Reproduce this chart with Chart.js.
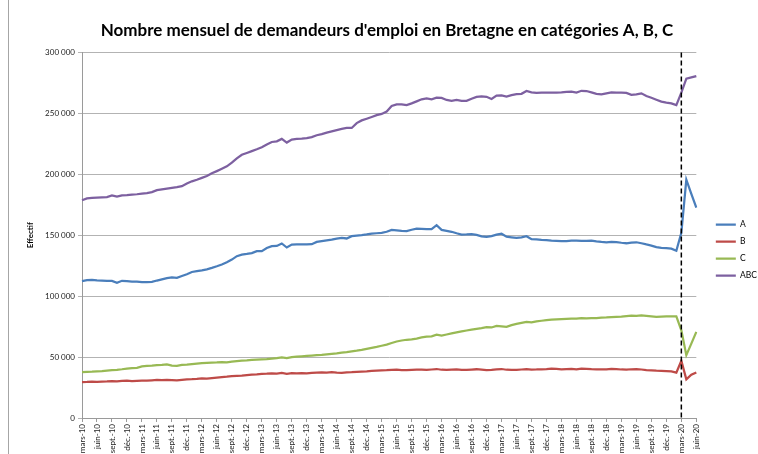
<!DOCTYPE html>
<html>
<head>
<meta charset="utf-8">
<script src="https://cdn.jsdelivr.net/npm/chart.js@4/dist/chart.umd.min.js"></script>
<style>
  html, body { margin: 0; padding: 0; background: #fff; }
  #wrap { position: relative; width: 758px; height: 454px; }
  #frame { position: absolute; left: 8px; top: 0; width: 0; height: 454px; border-left: 1px solid #a6a6a6; }
</style>
</head>
<body>
<div id="wrap">
  <div id="frame"></div>
  <canvas id="chart" width="758" height="454"></canvas>
</div>
<script>
// mois de mars-10 à juin-20
var moisNoms = ["mars", "avr.", "mai", "juin", "juil.", "août", "sept.", "oct.", "nov.", "déc.", "janv.", "févr."];
var mois = [];
for (var k = 0; k < 124; k++) {
    var an = 10 + Math.floor((k + 2) / 12);
    mois.push(moisNoms[k % 12] + "-" + an);
}

// effectifs en milliers
var serieA = [112.3, 113.2, 113.3, 113, 112.8, 112.6, 112.5, 110.9, 112.6, 112.3, 112, 112, 111.5, 111.4, 111.7, 112.8, 113.8, 114.8, 115.4, 115,
    116.5, 118, 119.8, 120.5, 121.2, 122, 123.2, 124.5, 126, 127.8, 130, 132.8, 134, 134.6, 135.3, 136.9, 136.9, 139.5, 141, 141.2,
    143.2, 139.9, 142.3, 142.5, 142.4, 142.4, 142.6, 144.5, 145.2, 145.8, 146.3, 147.2, 147.8, 147.3, 149.2, 149.6, 150, 150.6, 151.3, 151.6,
    151.9, 152.8, 154.4, 154, 153.6, 153.3, 154.5, 155.4, 155.2, 155, 154.9, 158.2, 154.4, 153.6, 152.8, 151.6, 150.5, 150.6, 150.8, 150.2,
    149, 148.6, 149.2, 150.4, 151.2, 148.8, 148.3, 147.8, 148.3, 149.2, 146.8, 146.5, 146.2, 146, 145.6, 145.4, 145.2, 145.2, 145.5, 145.6,
    145.4, 145.3, 145.6, 145, 144.5, 144.2, 144.6, 144.4, 143.8, 143.4, 144, 144.2, 143.4, 142.4, 141.5, 140.2, 139.6, 139.3, 138.9, 137.2,
    152, 195.6, 184, 172.7];
var serieB = [29.5, 29.6, 29.8, 29.7, 29.9, 30, 30.2, 30, 30.4, 30.6, 30.3, 30.5, 30.7, 30.6, 30.9, 31.2, 31, 31.3, 31.1, 30.9,
    31.3, 31.6, 31.8, 32.1, 32.5, 32.3, 32.8, 33.2, 33.6, 33.9, 34.3, 34.6, 34.8, 35.2, 35.5, 35.8, 36.2, 36.4, 36.7, 36.5,
    37, 36.3, 36.8, 36.7, 36.9, 36.6, 37, 37.2, 37.4, 37.3, 37.6, 37.2, 37, 37.4, 37.6, 37.9, 38.1, 38.3, 38.6, 38.8,
    39, 39.2, 39.5, 39.6, 39.3, 39.2, 39.5, 39.7, 39.6, 39.4, 39.8, 40.2, 39.6, 39.4, 39.6, 39.8, 39.5, 39.4, 39.7, 40,
    39.6, 39.2, 39.5, 39.9, 40.2, 39.6, 39.4, 39.5, 39.8, 40.1, 39.7, 39.8, 40, 40.2, 40.5, 40.3, 40, 40.2, 40.4, 40,
    40.6, 40.4, 40.1, 40, 39.8, 40, 40.3, 40.1, 39.8, 39.6, 40, 40.2, 39.8, 39.3, 39.1, 38.8, 38.6, 38.4, 38.2, 37.2,
    47, 31.7, 35.5, 37.4];
var serieC = [37.7, 37.9, 38, 38.2, 38.4, 38.9, 39.3, 39.5, 40, 40.6, 41, 41.2, 42.3, 42.8, 43, 43.3, 43.6, 44, 43, 42.8,
    43.6, 43.8, 44.2, 44.6, 45, 45.3, 45.5, 45.6, 45.9, 45.7, 46.3, 46.7, 47, 47.2, 47.6, 47.9, 48.2, 48.4, 48.8, 49.2,
    49.7, 49.2, 50, 50.3, 50.6, 50.9, 51.2, 51.5, 51.8, 52.2, 52.6, 53, 53.6, 54, 54.6, 55.2, 55.9, 56.8, 57.6, 58.4,
    59.3, 60.2, 61.5, 62.8, 63.6, 64.2, 64.6, 65.2, 66.2, 66.8, 67, 68.4, 67.6, 68.5, 69.4, 70.2, 71, 71.8, 72.6, 73.2,
    73.8, 74.6, 74.3, 75.6, 75.2, 74.8, 76.2, 77.2, 78, 78.8, 78.4, 79.3, 79.8, 80.3, 80.8, 81, 81.2, 81.4, 81.6, 81.5,
    82, 81.8, 81.9, 82, 82.3, 82.5, 82.8, 83, 83.2, 83.6, 84, 83.8, 84.2, 83.8, 83.4, 83, 83.2, 83.4, 83.3, 83.4,
    72, 51.6, 61, 70.7];
var serieABC = [178.7, 180.2, 180.6, 180.8, 181, 181.2, 182.6, 181.6, 182.6, 182.8, 183.2, 183.6, 184.2, 184.6, 185.4, 187, 187.6, 188.2, 188.8, 189.4,
    190.2, 192.5, 194.2, 195.5, 197, 198.5, 200.8, 202.6, 204.5, 206.5, 209.5, 213, 216, 217.5, 219, 220.5, 222.2, 224.5, 226.5, 227,
    229, 226, 228.5, 229, 229.2, 229.6, 230.5, 232, 233, 234.2, 235.2, 236.2, 237.2, 238, 238, 242, 244.2, 245.6, 247, 248.5,
    249.5, 251.5, 256, 257.4, 257.4, 256.8, 258.2, 259.8, 261.5, 262.2, 261.5, 262.8, 262.7, 261, 260.2, 261, 260.3, 260.2, 262, 263.5,
    264, 263.6, 261.8, 264.5, 264.8, 263.8, 265, 265.8, 266, 268.4, 267.2, 266.8, 267, 267, 267, 267, 267.2, 267.6, 267.8, 267,
    268.5, 268.3, 267.2, 266, 265.5, 266.4, 267.2, 267, 267, 266.8, 265.2, 265.5, 266.4, 264.2, 262.8, 261.2, 259.6, 258.8, 258.2, 256.8,
    267, 278.4, 279.5, 280.6];

var moisConfinement = "mars-20";

var series = [
    { label: "A", data: serieA, color: "#4a7ebb" },
    { label: "B", data: serieB, color: "#be4b48" },
    { label: "C", data: serieC, color: "#98b954" },
    { label: "ABC", data: serieABC, color: "#7d60a0" }
];

function milliers(v) {
    return String(v).replace(/\B(?=(\d{3})+(?!\d))/g, " ");
}

// ligne pointillée verticale + décalage de la légende
var lignePointillee = {
    id: "lignePointillee",
    afterLayout: function (chart) {
        var lg = chart.legend;
        lg.left += 11; lg.right += 11;
        lg.top += 23; lg.bottom += 23;
    },
    afterDatasetsDraw: function (chart) {
        var x = chart.scales.x.getPixelForValue(mois.indexOf(moisConfinement));
        var ctx = chart.ctx;
        ctx.save();
        ctx.strokeStyle = "#000";
        ctx.lineWidth = 1.5;
        ctx.setLineDash([5, 3]);
        ctx.beginPath();
        ctx.moveTo(x, chart.chartArea.top);
        ctx.lineTo(x, chart.chartArea.bottom);
        ctx.stroke();
        ctx.restore();
    }
};

new Chart(document.getElementById("chart"), {
    type: "line",
    data: {
        labels: mois,
        datasets: series.map(function (s) {
            return {
                label: s.label,
                data: s.data.map(function (v) { return Math.round(v * 1000); }),
                borderColor: s.color,
                backgroundColor: s.color,
                borderWidth: 2.25,
                pointRadius: 0,
                tension: 0
            };
        })
    },
    options: {
        responsive: false,
        animation: false,
        layout: { padding: { left: 18, right: 2, top: 0, bottom: 0 } },
        plugins: {
            title: {
                display: true,
                text: "Nombre mensuel de demandeurs d'emploi en Bretagne en catégories A, B, C",
                color: "#000",
                font: { family: "Lato", size: 17, weight: "bold" },
                padding: { top: 20, bottom: 12 }
            },
            legend: {
                position: "right",
                labels: {
                    usePointStyle: true,
                    pointStyle: "line",
                    pointStyleWidth: 20,
                    boxHeight: 8,
                    padding: 8.5,
                    color: "#000",
                    font: { family: "Lato", size: 8.5 }
                }
            },
            tooltip: { enabled: false }
        },
        scales: {
            x: {
                afterFit: function (s) { s.height = 36; },
                grid: {
                    drawOnChartArea: false,
                    tickLength: 4,
                    color: function (c) { return c.index % 3 === 0 ? "#9a9a9a" : "rgba(0,0,0,0)"; }
                },
                border: { color: "#9a9a9a" },
                ticks: {
                    autoSkip: false,
                    maxRotation: 90,
                    minRotation: 90,
                    padding: 2,
                    color: "#222",
                    font: { family: "Lato", size: 8 },
                    callback: function (v, i) { return i % 3 === 0 ? mois[i] : ""; }
                }
            },
            y: {
                min: 0,
                max: 300000,
                afterFit: function (s) { s.width = 64; },
                title: {
                    display: true,
                    text: "Effectif",
                    color: "#000",
                    font: { family: "Lato", size: 8, weight: "bold" },
                    padding: { top: 8, bottom: 0 }
                },
                grid: { color: "#b3b3b3", tickLength: 4 },
                border: { color: "#9a9a9a" },
                ticks: {
                    stepSize: 50000,
                    padding: 3,
                    color: "#222",
                    font: { family: "Lato", size: 8 },
                    callback: function (v) { return milliers(v); }
                }
            }
        }
    },
    plugins: [lignePointillee]
});
</script>
</body>
</html>
